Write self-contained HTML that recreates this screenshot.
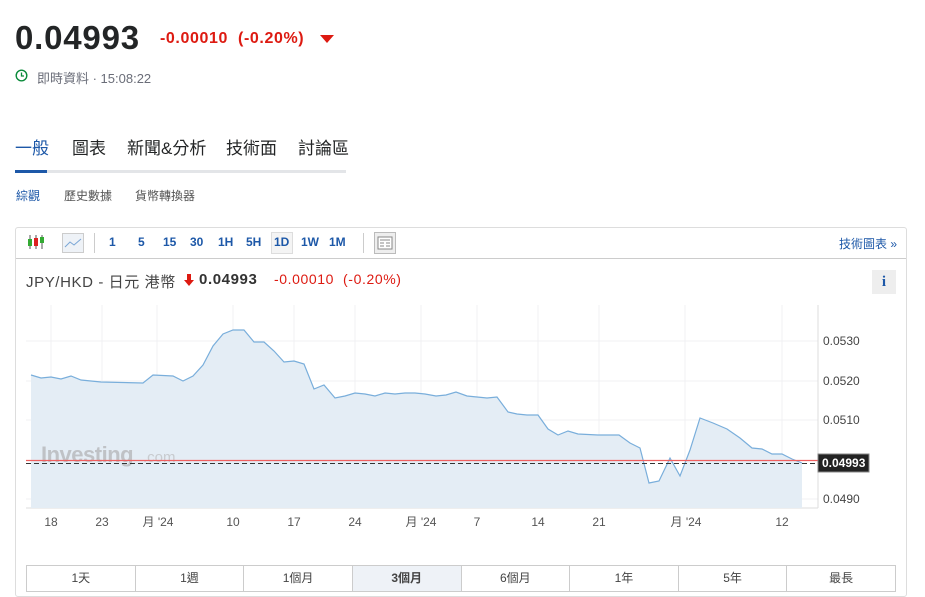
<!DOCTYPE html>
<html><head><meta charset="utf-8"><style>
body{margin:0;width:925px;height:594px;background:#fff;font-family:"Liberation Sans","Noto Sans CJK TC",sans-serif;position:relative;overflow:hidden;color:#333}
.a{position:absolute;white-space:nowrap}
</style></head><body>
<div class="a" style="left:15px;top:19px;font-size:33px;font-weight:bold;color:#232526;letter-spacing:0.8px">0.04993</div>
<div class="a" style="left:160px;top:30px;font-size:16px;font-weight:bold;color:#dd1a11;letter-spacing:0.6px">-0.00010&nbsp; (-0.20%)</div>
<svg class="a" style="left:320px;top:35px" width="14" height="10"><polygon points="0,0 14,0 7,8" fill="#dd1a11"/></svg>
<svg class="a" style="left:15px;top:69px" width="13" height="13"><circle cx="6.5" cy="6.5" r="5.3" fill="none" stroke="#0a8a3a" stroke-width="1.4"/><path d="M6.5 3.5V7H9" fill="none" stroke="#0a8a3a" stroke-width="1.3"/></svg>
<div class="a" style="left:37px;top:68px;font-size:13px;color:#6a6d78">即時資料 · 15:08:22</div>
<div class="a" style="left:15px;top:134px;font-size:17px;color:#1d58a8">一般</div>
<div class="a" style="left:72px;top:134px;font-size:17px;color:#232526">圖表</div>
<div class="a" style="left:127px;top:134px;font-size:17px;color:#232526">新聞&amp;分析</div>
<div class="a" style="left:226px;top:134px;font-size:17px;color:#232526">技術面</div>
<div class="a" style="left:298px;top:134px;font-size:17px;color:#232526">討論區</div>
<div class="a" style="left:15px;top:170px;width:331px;height:3px;background:#e3e5e8"></div>
<div class="a" style="left:15px;top:170px;width:32px;height:3px;background:#1d58a8"></div>
<div class="a" style="left:16px;top:187px;font-size:12px;color:#1d58a8">綜觀</div>
<div class="a" style="left:64px;top:187px;font-size:12px;color:#555">歷史數據</div>
<div class="a" style="left:135px;top:187px;font-size:12px;color:#555">貨幣轉換器</div>
<div class="a" style="left:15px;top:227px;width:892px;height:370px;border:1px solid #ddd;border-radius:3px;box-sizing:border-box"></div>
<div class="a" style="left:16px;top:258px;width:890px;height:1px;background:#ccc"></div>
<svg class="a" style="left:26px;top:234px" width="20" height="16"><path d="M4 1v14M10 1v14M16 1v14" stroke="#555"/><rect x="2" y="5" width="4" height="7" fill="#3a3"/><rect x="8" y="4" width="4" height="8" fill="#d22"/><rect x="14" y="3" width="4" height="6" fill="#3a3"/></svg>
<div class="a" style="left:62px;top:233px;width:20px;height:18px;border:1px solid #ccc;background:#eef2f7"><svg width="20" height="18"><path d="M2 13L7 8L11 11L18 5" stroke="#7aa6d6" fill="none"/></svg></div>
<div class="a" style="left:94px;top:233px;width:1px;height:20px;background:#ccc"></div>
<div class="a" style="left:109px;top:235px;font-size:12px;font-weight:bold;color:#1d58a8">1</div>
<div class="a" style="left:138px;top:235px;font-size:12px;font-weight:bold;color:#1d58a8">5</div>
<div class="a" style="left:163px;top:235px;font-size:12px;font-weight:bold;color:#1d58a8">15</div>
<div class="a" style="left:190px;top:235px;font-size:12px;font-weight:bold;color:#1d58a8">30</div>
<div class="a" style="left:218px;top:235px;font-size:12px;font-weight:bold;color:#1d58a8">1H</div>
<div class="a" style="left:246px;top:235px;font-size:12px;font-weight:bold;color:#1d58a8">5H</div>
<div class="a" style="left:271px;top:232px;width:20px;height:20px;border:1px solid #ddd;background:#f4f4f4"></div>
<div class="a" style="left:274px;top:235px;font-size:12px;font-weight:bold;color:#1d58a8">1D</div>
<div class="a" style="left:301px;top:235px;font-size:12px;font-weight:bold;color:#1d58a8">1W</div>
<div class="a" style="left:329px;top:235px;font-size:12px;font-weight:bold;color:#1d58a8">1M</div>
<div class="a" style="left:363px;top:233px;width:1px;height:20px;background:#ccc"></div>
<div class="a" style="left:374px;top:232px;width:20px;height:20px;border:1px solid #bbb;background:#eee"><svg width="20" height="20"><rect x="3" y="4" width="14" height="12" fill="#fff" stroke="#888"/><path d="M5 7h10M5 10h4M5 13h4M11 10h4M11 13h4" stroke="#888"/></svg></div>
<div class="a" style="left:839px;top:235px;font-size:12px;color:#1d58a8">技術圖表 »</div>
<div class="a" style="left:26px;top:271px;font-size:15px;color:#444;letter-spacing:0.6px">JPY/HKD - 日元 港幣</div>
<svg class="a" style="left:184px;top:274px" width="10" height="12"><path d="M3 0h4v6h3L5 12L0 6h3z" fill="#dd1a11"/></svg>
<div class="a" style="left:199px;top:271px;font-size:15px;font-weight:bold;color:#333;letter-spacing:0.6px">0.04993</div>
<div class="a" style="left:274px;top:271px;font-size:14px;color:#dd1a11;letter-spacing:0.6px">-0.00010&nbsp; (-0.20%)</div>
<div class="a" style="left:872px;top:270px;width:24px;height:24px;background:#eee;font:bold 15px 'Liberation Serif',serif;color:#1d58a8;text-align:center;line-height:24px">i</div>
<svg class="a" style="left:0;top:290px" width="925" height="250">
<g transform="translate(0,-290)">
<g stroke="#f0f1f3">
<path d="M26 341H818M26 381H818M26 420H818M26 499H818"/>
<path d="M51 305V508M102 305V508M157 305V508M233 305V508M294 305V508M355 305V508M421 305V508M477 305V508M538 305V508M599 305V508M685 305V508M782 305V508"/>
</g>
<path d="M818 305V508M26 508H818" stroke="#ddd"/>
<polygon fill="#e4edf5" points="31,508 31,375 41,378 51,377 61,379 71,376 81,380 91,381 101,382 143,383 153,375 173,376 183,381 193,376 203,365 213,346 223,334 233,330 244,330 254,342 264,342 274,351 284,362 294,361 304,364 314,389 324,385 335,398 345,396 355,393 365,394 375,396 385,393 395,394 405,393 415,393 425,394 436,396 446,395 456,392 467,396 477,397 487,398 497,397 508,412 517,414 527,415 538,415 548,429 558,435 568,431 578,434 598,435 608,435 619,435 630,443 640,448 649,483 659,481 670,458 680,476 690,450 700,418 713,423 727,429 740,438 752,448 762,449 772,454 782,454 792,459 802,463 802,508"/>
<polyline fill="none" stroke="#79aedb" stroke-width="1.2" points="31,375 41,378 51,377 61,379 71,376 81,380 91,381 101,382 143,383 153,375 173,376 183,381 193,376 203,365 213,346 223,334 233,330 244,330 254,342 264,342 274,351 284,362 294,361 304,364 314,389 324,385 335,398 345,396 355,393 365,394 375,396 385,393 395,394 405,393 415,393 425,394 436,396 446,395 456,392 467,396 477,397 487,398 497,397 508,412 517,414 527,415 538,415 548,429 558,435 568,431 578,434 598,435 608,435 619,435 630,443 640,448 649,483 659,481 670,458 680,476 690,450 700,418 713,423 727,429 740,438 752,448 762,449 772,454 782,454 792,459 802,463"/>
<text x="41" y="462" font-family="Liberation Sans" font-weight="bold" font-size="22" fill="#bfc2c6" letter-spacing="-0.5">Investing</text>
<text x="143" y="462" font-family="Liberation Sans" font-size="15" fill="#c8cbcf">.com</text>
<path d="M26 460.5H818" stroke="#f06060" stroke-width="1.2"/>
<path d="M26 463.5H818" stroke="#333" stroke-dasharray="5,3"/>
<rect x="818" y="454" width="51" height="18" fill="#222" stroke="#888"/>
<text x="822" y="467" font-family="Liberation Sans" font-weight="bold" font-size="12" fill="#fff">0.04993</text>
<g font-family="Liberation Sans" font-size="12" fill="#444">
<text x="823" y="345">0.0530</text><text x="823" y="385">0.0520</text><text x="823" y="424">0.0510</text><text x="823" y="503">0.0490</text>
</g>
<g font-family="Liberation Sans,Noto Sans CJK TC,sans-serif" font-size="12" fill="#555" text-anchor="middle">
<text x="51" y="526">18</text><text x="102" y="526">23</text><text x="158" y="526">月 '24</text><text x="233" y="526">10</text><text x="294" y="526">17</text><text x="355" y="526">24</text><text x="421" y="526">月 '24</text><text x="477" y="526">7</text><text x="538" y="526">14</text><text x="599" y="526">21</text><text x="686" y="526">月 '24</text><text x="782" y="526">12</text>
</g>
</g></svg>
<div class="a" style="left:26px;top:565px;width:870px;height:27px;border:1px solid #ccc;display:flex;font-size:12px;color:#444;box-sizing:border-box;background:#fff">
<div style="flex:1;text-align:center;line-height:25px;border-right:1px solid #ccc">1天</div>
<div style="flex:1;text-align:center;line-height:25px;border-right:1px solid #ccc">1週</div>
<div style="flex:1;text-align:center;line-height:25px;border-right:1px solid #ccc">1個月</div>
<div style="flex:1;text-align:center;line-height:25px;border-right:1px solid #ccc;background:#eef2f7;font-weight:bold">3個月</div>
<div style="flex:1;text-align:center;line-height:25px;border-right:1px solid #ccc">6個月</div>
<div style="flex:1;text-align:center;line-height:25px;border-right:1px solid #ccc">1年</div>
<div style="flex:1;text-align:center;line-height:25px;border-right:1px solid #ccc">5年</div>
<div style="flex:1;text-align:center;line-height:25px">最長</div>
</div>
</body></html>
